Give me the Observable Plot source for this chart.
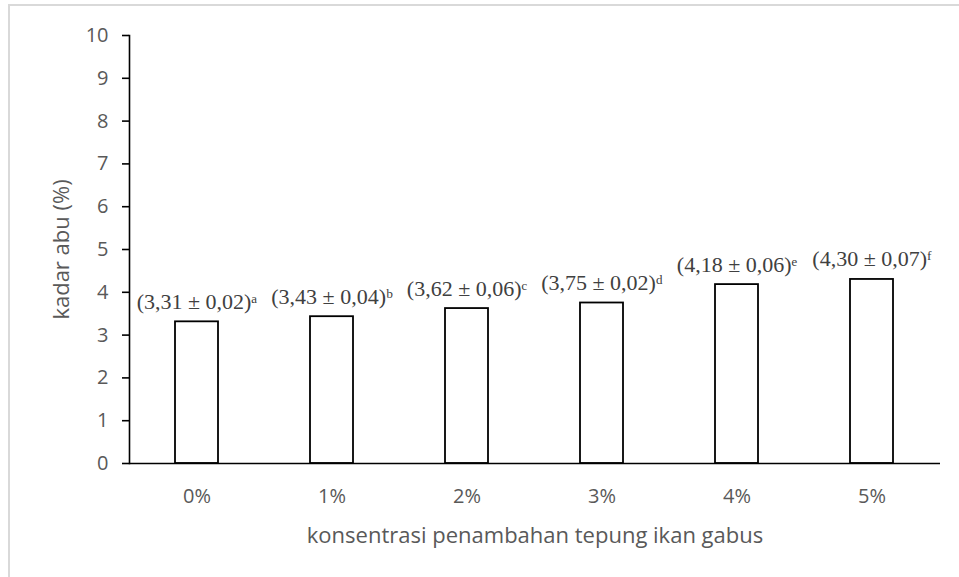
<!DOCTYPE html>
<html>
<head>
<meta charset="utf-8">
<script src="https://cdn.jsdelivr.net/npm/d3@7"></script>
<script src="https://cdn.jsdelivr.net/npm/@observablehq/plot@0.6"></script>
<style>
  html, body { margin: 0; padding: 0; background: #fff; overflow: hidden; }
  #wrap { position: relative; width: 959px; height: 577px; }
  #border { position: absolute; left: 8px; top: 4px; width: 1000px; height: 1000px;
            border-top: 2px solid #d9d9d9; border-left: 2px solid #d9d9d9; pointer-events: none; }
  svg { display: block; }
</style>
</head>
<body>
<div id="wrap"><div id="border"></div></div>
<script>
const categories = ["0%", "1%", "2%", "3%", "4%", "5%"];
const means = [3.31, 3.43, 3.62, 3.75, 4.18, 4.30];
const sds = [0.02, 0.04, 0.06, 0.02, 0.06, 0.07];
const letters = ["a", "b", "c", "d", "e", "f"];
const yTicks = [0, 1, 2, 3, 4, 5, 6, 7, 8, 9, 10];
const xTitle = "konsentrasi penambahan tepung ikan gabus";
const yTitle = "kadar abu (%)";

const supMap = {a: "\u1d43", b: "\u1d47", c: "\u1d9c", d: "\u1d48", e: "\u1d49", f: "\u1da0"};
const fmt = v => v.toFixed(2).replace(".", ",");
const rows = categories.map((c, i) => ({cat: c, mean: means[i], sd: sds[i], letter: letters[i]}));

const gray = "#595959";
const chart = Plot.plot({
  width: 959,
  height: 577,
  marginLeft: 129,
  marginRight: 19,
  marginTop: 35,
  marginBottom: 114,
  style: {fontFamily: "'Open Sans', sans-serif", background: "transparent"},
  x: {domain: categories, paddingInner: 0.68, paddingOuter: 0.34, axis: null},
  y: {domain: [0, 10], axis: null},
  marks: [
    Plot.barY(rows, {x: "cat", y: "mean", fill: "white", stroke: "black", strokeWidth: 1.8}),
    Plot.frame({anchor: "left", stroke: "black", strokeWidth: 1.6}),
    Plot.axisY({ticks: yTicks, tickSize: 7, tickFormat: () => "", color: "black", strokeWidth: 1.6, label: null}),
    Plot.axisY({ticks: yTicks, tickSize: 0, tickPadding: 21, color: gray, fontSize: 20, label: null}),
    Plot.ruleY([0], {stroke: "black", strokeWidth: 1.6}),
    Plot.axisX({tickSize: 0, tickPadding: 25, color: gray, fontSize: 20, label: null}),
    Plot.text([xTitle], {frameAnchor: "bottom", textAnchor: "middle", dy: 72, lineAnchor: "middle", fontSize: 22, fill: gray}),
    Plot.text([yTitle], {frameAnchor: "left", textAnchor: "middle", rotate: -90, dx: -68, lineAnchor: "middle", fontSize: 22, fill: gray}),
    Plot.text(rows, {x: "cat", y: "mean",
      text: d => "(" + fmt(d.mean) + " \u00b1 " + fmt(d.sd) + ")" + supMap[d.letter],
      textAnchor: "middle", dy: -13, lineAnchor: "bottom",
      fontFamily: "'Liberation Serif', serif", fontSize: 22, fill: "#404040"})
  ]
});
document.getElementById("wrap").prepend(chart);
</script>
</body>
</html>
